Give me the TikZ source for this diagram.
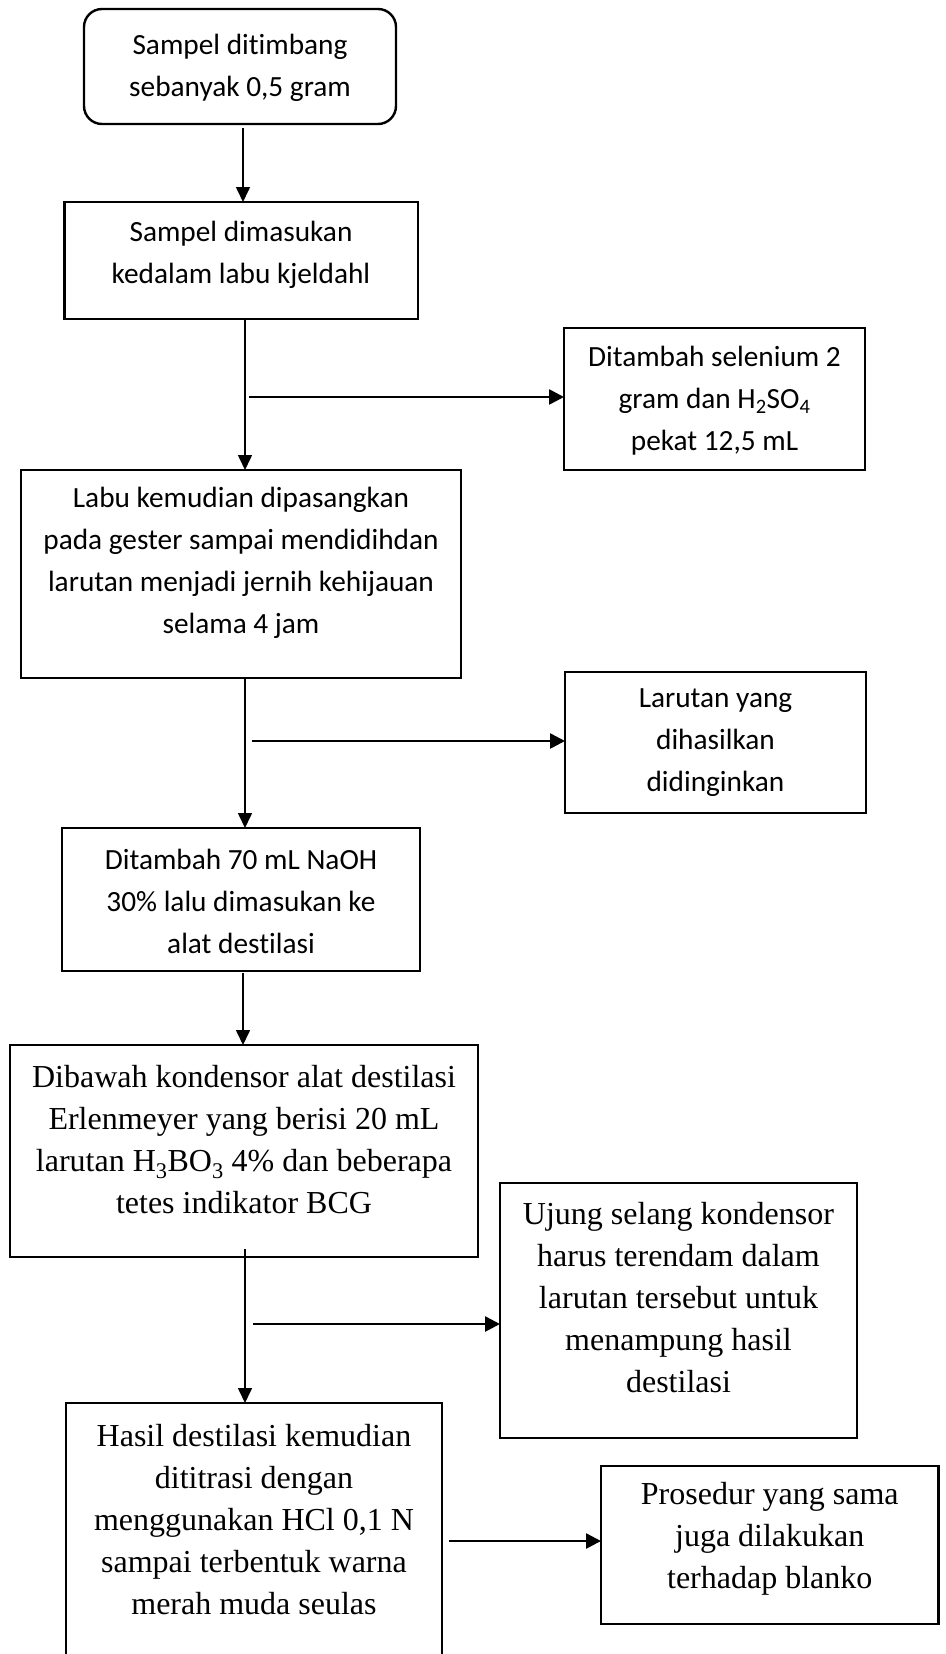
\documentclass[tikz,border=0pt]{standalone}
\usepackage{fontspec}
\setmainfont{Liberation Serif}
\newfontfamily\calib[Ligatures={NoCommon},RawFeature={-calt}]{Carlito}
\usetikzlibrary{arrows.meta}
\tikzset{
  box/.style={draw, line width=2.4pt, inner sep=0pt, outer sep=0pt},
  sanstxt/.style={align=center, inner sep=0pt, font=\calib\fontsize{29.3}{42}\selectfont},
  seriftxt/.style={align=center, inner sep=0pt, font=\fontsize{32}{42}\selectfont},
  vline/.style={line width=1.6pt, -{Triangle[length=15pt,width=14pt]}},
  hline/.style={line width=2.6pt, -{Triangle[length=15pt,width=15pt]}},
}
\begin{document}
\begin{tikzpicture}[x=1pt,y=-1pt]
\useasboundingbox (0,0) rectangle (945,1654);
\clip (0,0) rectangle (945,1654);
% boxes
\node[box, rounded corners=18pt, minimum width=312pt, minimum height=115pt] (b1) at (240,66.5) {};
\node[box, minimum width=353.5pt, minimum height=117pt] (b2) at (241.25,260.5) {};
\node[box, minimum width=301pt, minimum height=142pt] (b3) at (714.5,399) {};
\node[box, minimum width=440pt, minimum height=208pt] (b4) at (241,574) {};
\node[box, minimum width=301pt, minimum height=141pt] (b5) at (715.5,742.5) {};
\node[box, minimum width=358pt, minimum height=143pt] (b6) at (241,899.5) {};
\node[box, minimum width=468pt, minimum height=212pt] (b7) at (244,1151) {};
\node[box, minimum width=357pt, minimum height=255pt] (b8) at (678.5,1310.5) {};
\node[box, minimum width=376pt, minimum height=297pt] (b9) at (254,1551.5) {};
\node[box, minimum width=337.5pt, minimum height=158pt] (b10) at (769.75,1545) {};
% texts
\node[sanstxt] (t1) at (240,67.5) {Sampel ditimbang\\sebanyak 0,5 gram};
\node[sanstxt] (t2) at (241,255) {Sampel dimasukan\\kedalam labu kjeldahl};
\node[sanstxt] (t3) at (714.5,401) {Ditambah selenium 2\\gram dan H\textsubscript{2}SO\textsubscript{4}\\pekat 12,5 mL};
\node[sanstxt] (t4) at (241,563) {Labu kemudian dipasangkan\\pada gester sampai mendidihdan\\larutan menjadi jernih kehijauan\\selama 4 jam};
\node[sanstxt] (t5) at (715.5,743) {Larutan yang\\dihasilkan\\didinginkan};
\node[sanstxt] (t6) at (241,901) {Ditambah 70 mL NaOH\\30\% lalu dimasukan ke\\alat destilasi};
\node[seriftxt] (t7) at (244,1140) {Dibawah kondensor alat destilasi\\Erlenmeyer yang berisi 20 mL\\larutan H\textsubscript{3}BO\textsubscript{3} 4\% dan beberapa\\tetes indikator BCG};
\node[seriftxt] (t8) at (678.5,1298) {Ujung selang kondensor\\harus terendam dalam\\larutan tersebut untuk\\menampung hasil\\destilasi};
\node[seriftxt] (t9) at (254,1520) {Hasil destilasi kemudian\\dititrasi dengan\\menggunakan HCl 0,1 N\\sampai terbentuk warna\\merah muda seulas};
\node[seriftxt] (t10) at (769.75,1539) {Prosedur yang sama\\juga dilakukan\\terhadap blanko};
% connector guides
\coordinate (c1) at (243,0);
\coordinate (c2) at (245,0);
\coordinate (h1) at (249,397);
\coordinate (h2) at (252,741);
\coordinate (h3) at (253,1324);
\coordinate (h4) at (449,1541);
% vertical connectors
\draw[vline] ([yshift=-4pt]b1.south -| c1) -- (b2.north -| c1);
\draw[vline] (b2.south -| c2) -- (b4.north -| c2);
\draw[vline] (b4.south -| c2) -- (b6.north -| c2);
\draw[vline] ([yshift=-2pt]b6.south -| c1) -- (b7.north -| c1);
\draw[vline] ([yshift=8pt]b7.south -| c2) -- (b9.north -| c2);
% side connectors
\draw[hline] (h1) -- (h1 -| b3.west);
\draw[hline] (h2) -- (h2 -| b5.west);
\draw[hline] (h3) -- (h3 -| b8.west);
\draw[hline] (h4) -- (h4 -| b10.west);
\end{tikzpicture}
\end{document}
